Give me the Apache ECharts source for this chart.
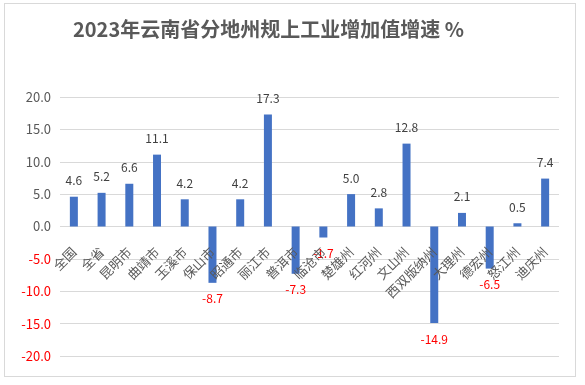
<!DOCTYPE html>
<html><head><meta charset="utf-8">
<script src="https://cdn.jsdelivr.net/npm/echarts@6/dist/echarts.min.js"></script>
<style>html,body{margin:0;padding:0;background:#fff}#c{width:585px;height:385px}
#frame{position:absolute;left:4px;top:3px;width:572px;height:374px;border:1px solid #d9d9d9;box-sizing:border-box;pointer-events:none}</style>
</head><body><div id="c"></div><div id="frame"></div>
<script>
const titleText = '2023年云南省分地州规上工业增加值增速 %';
const categories = ['全国','全省','昆明市','曲靖市','玉溪市','保山市','昭通市','丽江市','普洱市','临沧市','楚雄州','红河州','文山州','西双版纳州','大理州','德宏州','怒江州','迪庆州'];
const values = [4.6,5.2,6.6,11.1,4.2,-8.7,4.2,17.3,-7.3,-1.7,5.0,2.8,12.8,-14.9,2.1,-6.5,0.5,7.4];
const yTicks = {min:-20, max:20, interval:5};
const font = '"Noto Sans CJK SC", "Noto Sans", sans-serif';
const gridTop = 97, gridBottom = 29, H = 385;
const chart = echarts.init(document.getElementById('c'));
chart.setOption({
  animation:false,
  title:{text:titleText,left:73,top:19,padding:0,textStyle:{fontFamily:font,fontSize:20,fontWeight:'bold',color:'#595959'}},
  grid:{left:60,right:26,top:gridTop,bottom:gridBottom,containLabel:false,outerBoundsMode:'none'},
  xAxis:{type:'category',data:categories,z:5,
    offset:-(H-gridTop-gridBottom)/2,
    axisLine:{onZero:false,show:false},
    axisTick:{show:false},
    axisLabel:{rotate:45,interval:0,margin:23,fontFamily:font,fontSize:13,color:'#595959'}},
  yAxis:{type:'value',min:yTicks.min,max:yTicks.max,interval:yTicks.interval,
    axisLine:{show:false},axisTick:{show:false},
    splitLine:{lineStyle:{color:'#d9d9d9'}},
    axisLabel:{fontFamily:font,fontSize:13,margin:9,
      formatter:v=>v<0?'{n|'+v.toFixed(1)+'}':'{p|'+v.toFixed(1)+'}',
      rich:{n:{color:'#ff0000',fontFamily:font,fontSize:13},p:{color:'#595959',fontFamily:font,fontSize:13}}}},
  series:[{type:'bar',barWidth:8,itemStyle:{color:'#4472c4'},
    data:values.map(v=>({value:v,label:{position:v<0?'bottom':'top',color:v<0?'#ff0000':'#404040',distance:10}})),
    label:{show:true,fontFamily:font,fontSize:12,formatter:p=>p.value.toFixed(1)}}]
});
</script></body></html>
